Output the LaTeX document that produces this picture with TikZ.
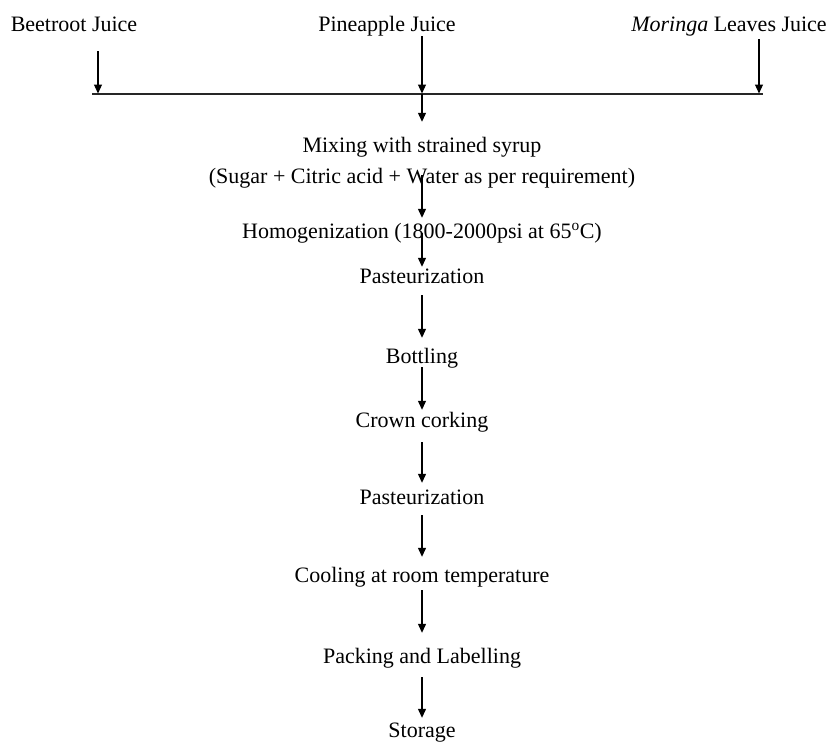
\documentclass[tikz,border=0pt]{standalone}
\usepackage{fontspec}
\setmainfont{Liberation Serif}
\usetikzlibrary{arrows.meta,calc}

\begin{document}
\begin{tikzpicture}[x=1pt,y=-1pt,inner sep=0pt,
	every node/.style={font=\fontsize{22}{26}\selectfont,text height=15pt,text depth=5pt,anchor=base},
	every edge/.style={draw,line width=1.2pt},
	>={Triangle[length=9pt,width=8pt]}]

\useasboundingbox (0,0) rectangle (830,742);

\node (beet) at (74,31) {Beetroot Juice};
\node (pine) at (387,31) {Pineapple Juice};
\node (mor) at (729,31) {\textit{Moringa} Leaves Juice};

\coordinate (jl) at (92,93.5);
\coordinate (jr) at (763,93.5);
\coordinate (j1) at (98,93.5);
\coordinate (j2) at (422,93.5);
\coordinate (j3) at (759,93.5);

\node (mx) at (422,152) {Mixing with strained syrup};
\node (sg) at (422,183) {(Sugar + Citric acid + Water as per requirement)};
\node (hm) at (422,238) {Homogenization (1800-2000psi at 65\textsuperscript{o}C)};
\node (p1) at (422,283) {Pasteurization};
\node (bt) at (422,363) {Bottling};
\node (cc) at (422,427) {Crown corking};
\node (p2) at (422,504) {Pasteurization};
\node (cl) at (422,582) {Cooling at room temperature};
\node (pk) at (422,663) {Packing and Labelling};
\node (st) at (422,737) {Storage};

\draw[line width=2pt,black!85] (jl) -- (jr);

\path[->]
	(beet.south -| j1) edge[shorten <=15pt] (j1)
	(pine.south -| j2) edge (j2)
	(mor.south -| j3) edge[shorten <=3pt] (j3);
\path[->]
	(j2) edge[shorten >=15pt] (mx)
	(sg) edge[shorten <=-13pt,shorten >=5pt] (hm)
	(hm) edge[shorten <=-10pt,shorten >=1pt] (p1)
	(p1) edge[shorten <=7pt,shorten >=10pt] (bt)
	(bt) edge[shorten <=-1pt,shorten >=2pt] (cc)
	(cc) edge[shorten <=10pt,shorten >=6pt] (p2)
	(p2) edge[shorten <=6pt,shorten >=10pt] (cl)
	(cl) edge[shorten <=3pt,shorten >=15pt] (pk)
	(pk) edge[shorten <=9pt,shorten >=4pt] (st);

\end{tikzpicture}
\end{document}
